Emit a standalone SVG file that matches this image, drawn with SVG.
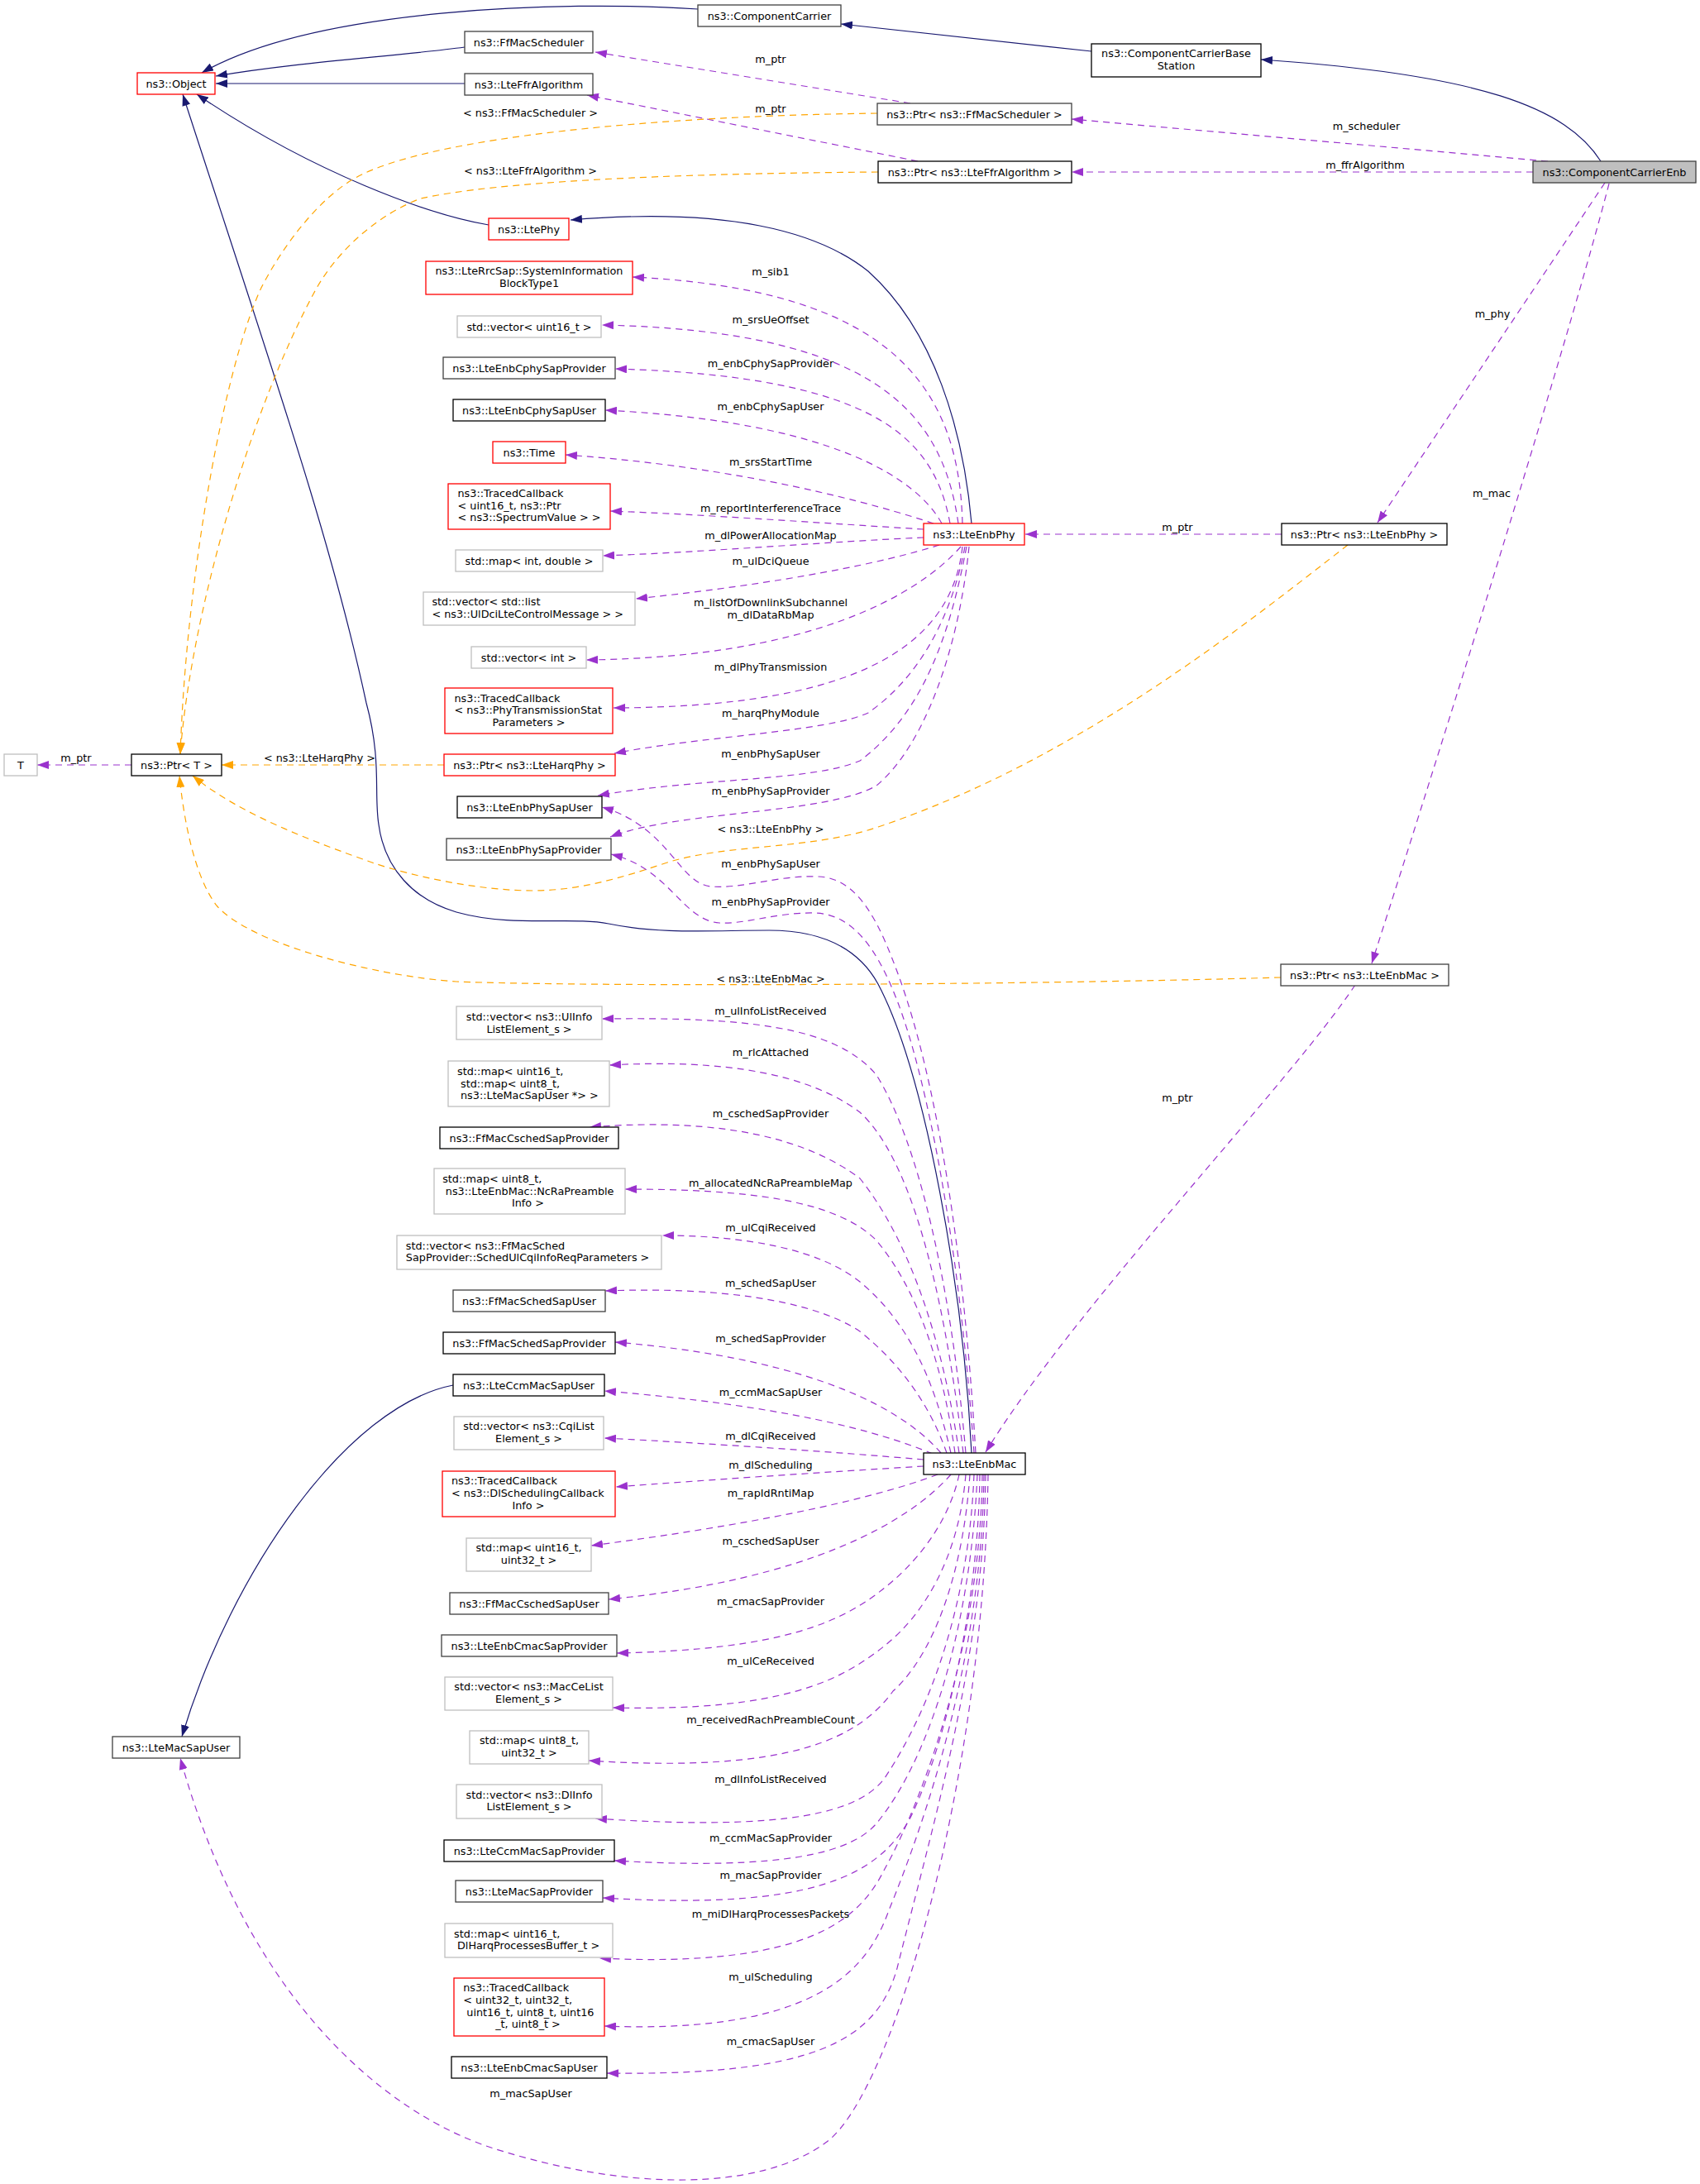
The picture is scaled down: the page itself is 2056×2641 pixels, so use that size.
<svg xmlns="http://www.w3.org/2000/svg" width="2056" height="2641" viewBox="0 0 2056 2641">
<style>
text{font-family:"DejaVu Sans","Liberation Sans",sans-serif;font-size:12.8px;fill:#000}
.m{text-anchor:middle}
.n rect{fill:#fff;stroke-width:1.3}
.b rect{stroke:#000}
.d rect{stroke:#404040}
.g rect{stroke:#bfbfbf}
.r rect{stroke:#ff0000}
#edges path{fill:none;stroke-width:1.2}
#edges .i{stroke:#191970;marker-end:url(#an)}
#edges .u{stroke:#9a32cd;stroke-dasharray:8,6;marker-end:url(#ap)}
#edges .t{stroke:#ffa500;stroke-dasharray:8,6;marker-end:url(#ao)}
</style>
<defs>
<marker id="an" markerUnits="userSpaceOnUse" markerWidth="14" markerHeight="10" refX="14" refY="5" orient="auto"><path d="M0,0L14,5L0,10z" fill="#191970"/></marker>
<marker id="ap" markerUnits="userSpaceOnUse" markerWidth="14" markerHeight="10" refX="14" refY="5" orient="auto"><path d="M0,0L14,5L0,10z" fill="#9a32cd"/></marker>
<marker id="ao" markerUnits="userSpaceOnUse" markerWidth="14" markerHeight="10" refX="14" refY="5" orient="auto"><path d="M0,0L14,5L0,10z" fill="#ffa500"/></marker>
</defs>
<rect width="2056" height="2641" fill="#fff"/>
<g id="edges">
<path class="i" d="M844,11C680,0 380,10 244,88"/>
<path class="i" d="M562,57C480,68 360,75 261,92"/>
<path class="i" d="M562,101L261,101"/>
<path class="i" d="M591,272C520,260 380,210 238,114"/>
<path class="i" d="M1175,633C1165,520 1130,400 1050,328C990,280 880,250 690,266"/>
<path class="i" d="M1175,1757C1165,1560 1120,1300 1062,1190C1040,1150 1000,1125 930,1125C860,1125 800,1130 736,1117C690,1108 620,1122 552,1103C500,1088 465,1050 458,997C452,960 462,920 443,850C400,650 330,450 221,114"/>
<path class="i" d="M1320,62L1017,29"/>
<path class="i" d="M1936,195C1895,130 1790,90 1525,72"/>
<path class="i" d="M548,1675C420,1700 280,1900 220,2100"/>
<path class="u" d="M1872,195L1296,144"/>
<path class="u" d="M1854,208L1296,208"/>
<path class="u" d="M1941,221L1666,632"/>
<path class="u" d="M1946,222C1900,400 1760,850 1659,1165"/>
<path class="u" d="M1101,125L720,63"/>
<path class="u" d="M1110,195L710,115"/>
<path class="t" d="M1061,137C800,140 520,165 430,215C385,240 340,300 315,350C270,450 225,700 218,912"/>
<path class="t" d="M1062,208C800,210 600,220 509,240C460,258 410,300 382,350C300,500 230,750 218,912"/>
<path class="t" d="M537,925L268,925"/>
<path class="u" d="M159,925L45,925"/>
<path class="t" d="M1630,659C1500,760 1300,920 1062,1000C980,1028 880,1020 807,1043C750,1062 700,1077 644,1077C580,1077 500,1060 450,1043C380,1018 290,985 233,938"/>
<path class="t" d="M1549,1182C1200,1192 700,1193 552,1187C450,1180 300,1140 262,1095C235,1060 222,990 217,938"/>
<path class="u" d="M1550,646L1240,646"/>
<path class="u" d="M1639,1191C1560,1310 1300,1580 1192,1756"/>
<path class="u" d="M1164,633C1160,470 1080,350 765,335"/>
<path class="u" d="M1159,633C1140,500 1060,400 728,393"/>
<path class="u" d="M1149,633C1130,530 1060,455 744,446"/>
<path class="u" d="M1139,633C1110,580 1010,510 732,496"/>
<path class="u" d="M1129,633C1060,610 900,565 684,550"/>
<path class="u" d="M1117,640C1000,633 850,622 738,618"/>
<path class="u" d="M1117,650C1000,655 850,668 729,672"/>
<path class="u" d="M1136,659C1070,680 950,705 769,724"/>
<path class="u" d="M1162,661C1110,720 980,795 709,798"/>
<path class="u" d="M1164,661C1150,790 1020,855 742,856"/>
<path class="u" d="M1167,661C1150,750 1110,820 1050,862C1000,885 850,890 743,911"/>
<path class="u" d="M1169,661C1150,760 1120,860 1040,920C980,945 850,940 723,962"/>
<path class="u" d="M1172,661C1160,780 1120,900 1060,950C1000,985 820,980 738,1012"/>
<path class="u" d="M1180,1757C1165,1500 1130,1300 1088,1183C1065,1120 1040,1062 990,1060C940,1058 900,1075 860,1072C820,1068 810,1000 728,976"/>
<path class="u" d="M1178,1757C1160,1500 1120,1300 1085,1210C1060,1145 1030,1105 985,1104C940,1103 900,1118 870,1116C825,1113 810,1050 739,1033"/>
<path class="u" d="M1168,1757C1150,1550 1110,1380 1060,1300C1010,1240 900,1230 728,1232"/>
<path class="u" d="M1165,1757C1140,1550 1100,1400 1040,1345C980,1300 880,1280 737,1288"/>
<path class="u" d="M1160,1757C1140,1620 1100,1500 1040,1425C980,1380 880,1350 713,1363"/>
<path class="u" d="M1155,1757C1140,1650 1110,1560 1060,1500C1010,1450 900,1438 756,1438"/>
<path class="u" d="M1150,1757C1130,1670 1100,1600 1040,1550C990,1510 900,1494 801,1494"/>
<path class="u" d="M1145,1757C1125,1700 1090,1650 1040,1610C980,1570 860,1556 732,1561"/>
<path class="u" d="M1138,1757C1080,1690 950,1640 744,1623"/>
<path class="u" d="M1128,1758C1060,1730 950,1700 731,1682"/>
<path class="u" d="M1117,1765C1000,1755 850,1745 731,1739"/>
<path class="u" d="M1117,1773C1000,1780 850,1790 745,1798"/>
<path class="u" d="M1134,1783C1050,1815 900,1845 715,1869"/>
<path class="u" d="M1150,1783C1100,1840 980,1910 736,1934"/>
<path class="u" d="M1160,1783C1150,1830 1120,1880 1070,1920C1020,1960 950,1995 746,1999"/>
<path class="u" d="M1168,1783C1160,1880 1120,1950 1070,1990C1020,2030 950,2070 741,2065"/>
<path class="u" d="M1173,1783C1165,1900 1130,2000 1080,2045C1040,2100 960,2145 712,2129"/>
<path class="u" d="M1178,1783C1172,1930 1130,2060 1070,2150C1040,2190 960,2215 720,2199"/>
<path class="u" d="M1182,1783C1175,1950 1130,2120 1060,2205C1030,2240 950,2262 743,2250"/>
<path class="u" d="M1185,1783C1183,1950 1140,2120 1100,2200C1060,2270 980,2310 729,2295"/>
<path class="u" d="M1188,1783C1186,1980 1120,2170 1070,2260C1040,2320 980,2380 725,2368"/>
<path class="u" d="M1190,1783C1188,2000 1120,2200 1075,2310C1050,2380 990,2460 731,2450"/>
<path class="u" d="M1192,1783C1190,2000 1130,2200 1085,2380C1060,2470 980,2510 734,2507"/>
<path class="u" d="M1195,1783C1190,2150 1080,2530 1000,2590C920,2650 760,2650 597,2598C467,2556 300,2420 218,2126"/>
<text class="m" x="932" y="76.2">m_ptr</text>
<text class="m" x="932" y="135.5">m_ptr</text>
<text class="m" x="641.5" y="141.2">&lt; ns3::FfMacScheduler &gt;</text>
<text class="m" x="641.5" y="211.2">&lt; ns3::LteFfrAlgorithm &gt;</text>
<text class="m" x="1652.5" y="157.2">m_scheduler</text>
<text class="m" x="1651" y="203.8">m_ffrAlgorithm</text>
<text class="m" x="1805" y="383.5">m_phy</text>
<text class="m" x="1804" y="601.4">m_mac</text>
<text class="m" x="1424" y="641.5">m_ptr</text>
<text class="m" x="1424" y="1332.2">m_ptr</text>
<text class="m" x="92" y="921.2">m_ptr</text>
<text class="m" x="386.5" y="921.2">&lt; ns3::LteHarqPhy &gt;</text>
<text class="m" x="932" y="1006.8">&lt; ns3::LteEnbPhy &gt;</text>
<text class="m" x="932" y="1187.8">&lt; ns3::LteEnbMac &gt;</text>
<text class="m" x="932" y="332.5">m_sib1</text>
<text class="m" x="932" y="390.8">m_srsUeOffset</text>
<text class="m" x="932" y="444.1">m_enbCphySapProvider</text>
<text class="m" x="932" y="496">m_enbCphySapUser</text>
<text class="m" x="932" y="563">m_srsStartTime</text>
<text class="m" x="932" y="618.8">m_reportInterferenceTrace</text>
<text class="m" x="932" y="652.1">m_dlPowerAllocationMap</text>
<text class="m" x="932" y="683">m_ulDciQueue</text>
<text class="m" x="932" y="732.8">m_listOfDownlinkSubchannel</text>
<text class="m" x="932" y="747.9">m_dlDataRbMap</text>
<text class="m" x="932" y="811">m_dlPhyTransmission</text>
<text class="m" x="932" y="866.8">m_harqPhyModule</text>
<text class="m" x="932" y="915.8">m_enbPhySapUser</text>
<text class="m" x="932" y="961.2">m_enbPhySapProvider</text>
<text class="m" x="932" y="1048.8">m_enbPhySapUser</text>
<text class="m" x="932" y="1094.8">m_enbPhySapProvider</text>
<text class="m" x="932" y="1226.8">m_ulInfoListReceived</text>
<text class="m" x="932" y="1276.8">m_rlcAttached</text>
<text class="m" x="932" y="1351.2">m_cschedSapProvider</text>
<text class="m" x="932" y="1435.2">m_allocatedNcRaPreambleMap</text>
<text class="m" x="932" y="1489.2">m_ulCqiReceived</text>
<text class="m" x="932" y="1555.8">m_schedSapUser</text>
<text class="m" x="932" y="1623.2">m_schedSapProvider</text>
<text class="m" x="932" y="1688.2">m_ccmMacSapUser</text>
<text class="m" x="932" y="1741.2">m_dlCqiReceived</text>
<text class="m" x="932" y="1775.5">m_dlScheduling</text>
<text class="m" x="932" y="1809.5">m_rapIdRntiMap</text>
<text class="m" x="932" y="1868.2">m_cschedSapUser</text>
<text class="m" x="932" y="1941.2">m_cmacSapProvider</text>
<text class="m" x="932" y="2012.8">m_ulCeReceived</text>
<text class="m" x="932" y="2084.2">m_receivedRachPreambleCount</text>
<text class="m" x="932" y="2155.8">m_dlInfoListReceived</text>
<text class="m" x="932" y="2226.8">m_ccmMacSapProvider</text>
<text class="m" x="932" y="2271.8">m_macSapProvider</text>
<text class="m" x="932" y="2319.2">m_miDlHarqProcessesPackets</text>
<text class="m" x="932" y="2394.8">m_ulScheduling</text>
<text class="m" x="932" y="2473.2">m_cmacSapUser</text>
<text class="m" x="642" y="2535.8">m_macSapUser</text>
</g>
<g id="n_object" class="n r"><rect x="166" y="88" width="94" height="26"/><text class="m" x="213" y="105.5">ns3::Object</text></g>
<g id="n_cc" class="n d"><rect x="844" y="6" width="173" height="26"/><text class="m" x="930.5" y="23.5">ns3::ComponentCarrier</text></g>
<g id="n_ffms" class="n d"><rect x="562" y="38" width="155" height="26"/><text class="m" x="639.5" y="55.5">ns3::FfMacScheduler</text></g>
<g id="n_ffr" class="n d"><rect x="562" y="89" width="155" height="26"/><text class="m" x="639.5" y="106.5">ns3::LteFfrAlgorithm</text></g>
<g id="n_ltephy" class="n r"><rect x="591" y="264" width="97" height="26"/><text class="m" x="639.5" y="281.5">ns3::LtePhy</text></g>
<g id="n_ccbs" class="n b"><rect x="1320" y="53" width="205" height="40"/><text class="m" x="1422.5" y="69">ns3::ComponentCarrierBase</text><text class="m" x="1422.5" y="84">Station</text></g>
<g id="n_ptrffms" class="n d"><rect x="1061" y="125" width="235" height="26"/><text class="m" x="1178.5" y="142.5">ns3::Ptr&lt; ns3::FfMacScheduler &gt;</text></g>
<g id="n_ptrffr" class="n b"><rect x="1062" y="195" width="234" height="26"/><text class="m" x="1179" y="212.5">ns3::Ptr&lt; ns3::LteFfrAlgorithm &gt;</text></g>
<g id="n_ccenb" class="n d"><rect x="1854" y="195" width="197" height="26" style="fill:#bfbfbf"/><text class="m" x="1952.5" y="212.5">ns3::ComponentCarrierEnb</text></g>
<g id="n_sib" class="n r"><rect x="515" y="316" width="250" height="40"/><text class="m" x="640" y="332">ns3::LteRrcSap::SystemInformation</text><text class="m" x="640" y="347">BlockType1</text></g>
<g id="n_vu16" class="n g"><rect x="553" y="382" width="174" height="26"/><text class="m" x="640" y="399.5">std::vector&lt; uint16_t &gt;</text></g>
<g id="n_cphyprov" class="n d"><rect x="536" y="432" width="208" height="26"/><text class="m" x="640" y="449.5">ns3::LteEnbCphySapProvider</text></g>
<g id="n_cphyuser" class="n b"><rect x="548" y="483" width="184" height="26"/><text class="m" x="640" y="500.5">ns3::LteEnbCphySapUser</text></g>
<g id="n_time" class="n r"><rect x="596" y="534" width="88" height="26"/><text class="m" x="640" y="551.5">ns3::Time</text></g>
<g id="n_tc1" class="n r"><rect x="542" y="585" width="196" height="55"/><text x="553.5" y="601">ns3::TracedCallback</text><text x="553.5" y="615.5">&lt; uint16_t, ns3::Ptr</text><text x="553.5" y="630">&lt; ns3::SpectrumValue &gt; &gt;</text></g>
<g id="n_mapid" class="n g"><rect x="551" y="665" width="178" height="26"/><text class="m" x="640" y="682.5">std::map&lt; int, double &gt;</text></g>
<g id="n_vlist" class="n g"><rect x="512" y="716" width="256" height="40"/><text x="522.4" y="732">std::vector&lt; std::list</text><text x="522.4" y="747">&lt; ns3::UlDciLteControlMessage &gt; &gt;</text></g>
<g id="n_vint" class="n g"><rect x="570" y="782" width="139" height="26"/><text class="m" x="639.5" y="799.5">std::vector&lt; int &gt;</text></g>
<g id="n_tc2" class="n r"><rect x="538" y="832" width="203" height="55"/><text x="549.5" y="848.5">ns3::TracedCallback</text><text x="549.5" y="863.2">&lt; ns3::PhyTransmissionStat</text><text class="m" x="639.5" y="878">Parameters &gt;</text></g>
<g id="n_harq" class="n r"><rect x="537" y="912" width="207" height="26"/><text class="m" x="640.5" y="929.5">ns3::Ptr&lt; ns3::LteHarqPhy &gt;</text></g>
<g id="n_physapuser" class="n b"><rect x="553" y="963" width="175" height="26"/><text class="m" x="640.5" y="980.5">ns3::LteEnbPhySapUser</text></g>
<g id="n_physapprov" class="n d"><rect x="540" y="1014" width="199" height="26"/><text class="m" x="639.5" y="1031.5">ns3::LteEnbPhySapProvider</text></g>
<g id="n_enbphy" class="n r"><rect x="1117" y="633" width="122" height="26"/><text class="m" x="1178" y="650.5">ns3::LteEnbPhy</text></g>
<g id="n_ptrphy" class="n b"><rect x="1550" y="633" width="200" height="26"/><text class="m" x="1650" y="650.5">ns3::Ptr&lt; ns3::LteEnbPhy &gt;</text></g>
<g id="n_ptrmac" class="n d"><rect x="1549" y="1166" width="203" height="26"/><text class="m" x="1650.5" y="1183.5">ns3::Ptr&lt; ns3::LteEnbMac &gt;</text></g>
<g id="n_T" class="n g"><rect x="5" y="912" width="40" height="26"/><text class="m" x="25" y="929.5">T</text></g>
<g id="n_ptrT" class="n b"><rect x="159" y="912" width="109" height="26"/><text class="m" x="213.5" y="929.5">ns3::Ptr&lt; T &gt;</text></g>
<g id="n_vulinfo" class="n g"><rect x="552" y="1217" width="176" height="40"/><text class="m" x="640" y="1233.5">std::vector&lt; ns3::UlInfo</text><text class="m" x="640" y="1248.5">ListElement_s &gt;</text></g>
<g id="n_maprlc" class="n g"><rect x="542" y="1283" width="195" height="55"/><text x="553" y="1299.5">std::map&lt; uint16_t,</text><text x="557" y="1314.5">std::map&lt; uint8_t,</text><text x="557" y="1329">ns3::LteMacSapUser *&gt; &gt;</text></g>
<g id="n_cschedprov" class="n b"><rect x="532" y="1363" width="216" height="26"/><text class="m" x="640" y="1380.5">ns3::FfMacCschedSapProvider</text></g>
<g id="n_mapncra" class="n g"><rect x="525" y="1413" width="231" height="55"/><text x="535.2" y="1430">std::map&lt; uint8_t,</text><text x="538.8" y="1445">ns3::LteEnbMac::NcRaPreamble</text><text class="m" x="638.5" y="1459">Info &gt;</text></g>
<g id="n_vulcqi" class="n g"><rect x="480" y="1494" width="320" height="41"/><text x="490.8" y="1510.5">std::vector&lt; ns3::FfMacSched</text><text x="490.8" y="1525">SapProvider::SchedUlCqiInfoReqParameters &gt;</text></g>
<g id="n_schedsapuser" class="n d"><rect x="548" y="1560" width="184" height="26"/><text class="m" x="640" y="1577.5">ns3::FfMacSchedSapUser</text></g>
<g id="n_schedsapprov" class="n b"><rect x="536" y="1611" width="208" height="26"/><text class="m" x="640" y="1628.5">ns3::FfMacSchedSapProvider</text></g>
<g id="n_ccmmacuser" class="n b"><rect x="548" y="1662" width="183" height="26"/><text class="m" x="639.5" y="1679.5">ns3::LteCcmMacSapUser</text></g>
<g id="n_vcqi" class="n g"><rect x="549" y="1713" width="181" height="40"/><text class="m" x="639.5" y="1729">std::vector&lt; ns3::CqiList</text><text class="m" x="639.5" y="1744">Element_s &gt;</text></g>
<g id="n_tc3" class="n r"><rect x="535" y="1779" width="209" height="55"/><text x="546" y="1795">ns3::TracedCallback</text><text x="546" y="1810">&lt; ns3::DlSchedulingCallback</text><text class="m" x="639" y="1825">Info &gt;</text></g>
<g id="n_enbmac" class="n b"><rect x="1117" y="1757" width="123" height="26"/><text class="m" x="1178.5" y="1774.5">ns3::LteEnbMac</text></g>
<g id="n_map1632" class="n g"><rect x="564" y="1860" width="151" height="40"/><text class="m" x="639.5" y="1876">std::map&lt; uint16_t,</text><text class="m" x="639.5" y="1890.5">uint32_t &gt;</text></g>
<g id="n_cschedsapuser" class="n d"><rect x="544" y="1926" width="192" height="26"/><text class="m" x="640" y="1943.5">ns3::FfMacCschedSapUser</text></g>
<g id="n_cmacprov" class="n d"><rect x="534" y="1977" width="212" height="26"/><text class="m" x="640" y="1994.5">ns3::LteEnbCmacSapProvider</text></g>
<g id="n_vmacce" class="n g"><rect x="538" y="2028" width="203" height="40"/><text class="m" x="639.5" y="2044">std::vector&lt; ns3::MacCeList</text><text class="m" x="639.5" y="2058.5">Element_s &gt;</text></g>
<g id="n_map832" class="n g"><rect x="568" y="2093" width="144" height="40"/><text class="m" x="640" y="2109">std::map&lt; uint8_t,</text><text class="m" x="640" y="2124">uint32_t &gt;</text></g>
<g id="n_vdlinfo" class="n g"><rect x="552" y="2158" width="176" height="41"/><text class="m" x="640" y="2174.5">std::vector&lt; ns3::DlInfo</text><text class="m" x="640" y="2189">ListElement_s &gt;</text></g>
<g id="n_ccmmacprov" class="n b"><rect x="537" y="2225" width="206" height="26"/><text class="m" x="640" y="2242.5">ns3::LteCcmMacSapProvider</text></g>
<g id="n_macsapprov" class="n d"><rect x="551" y="2274" width="178" height="26"/><text class="m" x="640" y="2291.5">ns3::LteMacSapProvider</text></g>
<g id="n_mapharq" class="n g"><rect x="538" y="2326" width="203" height="41"/><text x="549" y="2343">std::map&lt; uint16_t,</text><text x="553" y="2357">DlHarqProcessesBuffer_t &gt;</text></g>
<g id="n_tc4" class="n r"><rect x="549" y="2392" width="182" height="70"/><text x="560.2" y="2408.3">ns3::TracedCallback</text><text x="560.2" y="2423">&lt; uint32_t, uint32_t,</text><text x="564.3" y="2437.5">uint16_t, uint8_t, uint16</text><text class="m" x="638.5" y="2452">_t, uint8_t &gt;</text></g>
<g id="n_cmacuser" class="n b"><rect x="546" y="2487" width="188" height="26"/><text class="m" x="640" y="2504.5">ns3::LteEnbCmacSapUser</text></g>
<g id="n_macsapuser" class="n d"><rect x="136" y="2100" width="154" height="26"/><text class="m" x="213" y="2117.5">ns3::LteMacSapUser</text></g>
</svg>
